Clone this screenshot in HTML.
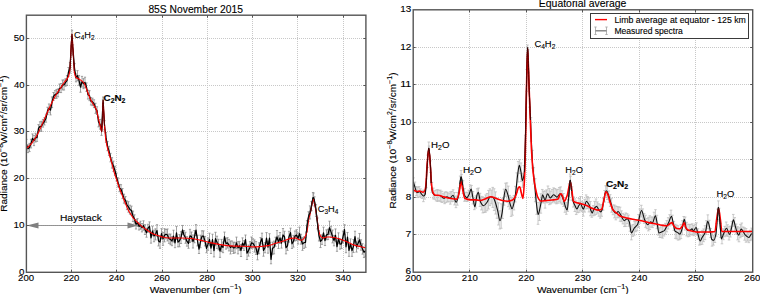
<!DOCTYPE html>
<html><head><meta charset="utf-8"><style>html,body{margin:0;padding:0;background:#fff;}svg{display:block;}</style></head>
<body><svg width="760" height="294" viewBox="0 0 760 294" font-family='"Liberation Sans", sans-serif'><rect width="760" height="294" fill="#fff"/><clipPath id="cl"><rect x="26.4" y="15.2" width="339.5" height="257.1"/></clipPath><clipPath id="cr"><rect x="413.2" y="9.8" width="339.50000000000006" height="262.4"/></clipPath><path d="M71.5,17V272 M116.5,17V272 M162.5,17V272 M207.5,17V272 M252.5,17V272 M297.5,17V272 M343.5,17V272 M27,225.5H365 M27,178.5H365 M27,131.5H365 M27,85.5H365 M27,38.5H365 M469.5,10V272 M526.5,10V272 M582.5,10V272 M639.5,10V272 M695.5,10V272 M414,234.5H752 M414,197.5H752 M414,159.5H752 M414,122.5H752 M414,84.5H752 M414,47.5H752" stroke="#c8c8c8" stroke-width="1" stroke-dasharray="1,1" fill="none"/><g clip-path="url(#cl)"><path d="M26.50,139.36V149.98M25.40,139.36h2.2M25.40,149.98h2.2 M28.00,144.80V152.61M26.90,144.80h2.2M26.90,152.61h2.2 M29.50,143.38V151.57M28.40,143.38h2.2M28.40,151.57h2.2 M31.00,139.24V147.93M29.90,139.24h2.2M29.90,147.93h2.2 M32.50,133.94V142.91M31.40,133.94h2.2M31.40,142.91h2.2 M34.00,135.42V145.64M32.90,135.42h2.2M32.90,145.64h2.2 M35.50,133.21V142.04M34.40,133.21h2.2M34.40,142.04h2.2 M37.00,134.09V141.40M35.90,134.09h2.2M35.90,141.40h2.2 M38.50,124.62V131.97M37.40,124.62h2.2M37.40,131.97h2.2 M40.00,121.84V131.09M38.90,121.84h2.2M38.90,131.09h2.2 M41.50,121.28V131.33M40.40,121.28h2.2M40.40,131.33h2.2 M43.00,119.42V127.11M41.90,119.42h2.2M41.90,127.11h2.2 M44.50,117.66V124.95M43.40,117.66h2.2M43.40,124.95h2.2 M46.00,114.14V122.20M44.90,114.14h2.2M44.90,122.20h2.2 M47.50,107.25V114.62M46.40,107.25h2.2M46.40,114.62h2.2 M49.00,103.97V112.77M47.90,103.97h2.2M47.90,112.77h2.2 M50.50,105.34V114.90M49.40,105.34h2.2M49.40,114.90h2.2 M52.00,96.94V107.59M50.90,96.94h2.2M50.90,107.59h2.2 M53.50,92.50V100.42M52.40,92.50h2.2M52.40,100.42h2.2 M55.00,90.64V98.48M53.90,90.64h2.2M53.90,98.48h2.2 M56.50,89.45V98.35M55.40,89.45h2.2M55.40,98.35h2.2 M58.00,88.97V96.82M56.90,88.97h2.2M56.90,96.82h2.2 M59.50,84.05V92.50M58.40,84.05h2.2M58.40,92.50h2.2 M61.00,83.51V92.58M59.90,83.51h2.2M59.90,92.58h2.2 M62.50,79.99V89.91M61.40,79.99h2.2M61.40,89.91h2.2 M64.00,79.96V90.01M62.90,79.96h2.2M62.90,90.01h2.2 M65.50,78.72V86.23M64.40,78.72h2.2M64.40,86.23h2.2 M67.00,75.63V85.44M65.90,75.63h2.2M65.90,85.44h2.2 M68.50,67.47V76.30M67.40,67.47h2.2M67.40,76.30h2.2 M70.00,62.59V73.06M68.90,62.59h2.2M68.90,73.06h2.2 M71.50,36.61V45.86M70.40,36.61h2.2M70.40,45.86h2.2 M73.00,44.83V54.90M71.90,44.83h2.2M71.90,54.90h2.2 M74.50,63.61V72.48M73.40,63.61h2.2M73.40,72.48h2.2 M76.00,73.89V81.83M74.90,73.89h2.2M74.90,81.83h2.2 M77.50,70.62V80.77M76.40,70.62h2.2M76.40,80.77h2.2 M79.00,75.43V85.21M77.90,75.43h2.2M77.90,85.21h2.2 M80.50,81.80V92.24M79.40,81.80h2.2M79.40,92.24h2.2 M82.00,76.36V87.08M80.90,76.36h2.2M80.90,87.08h2.2 M83.50,78.61V88.65M82.40,78.61h2.2M82.40,88.65h2.2 M85.00,77.21V87.68M83.90,77.21h2.2M83.90,87.68h2.2 M86.50,82.91V91.37M85.40,82.91h2.2M85.40,91.37h2.2 M88.00,90.25V99.04M86.90,90.25h2.2M86.90,99.04h2.2 M89.50,90.68V100.65M88.40,90.68h2.2M88.40,100.65h2.2 M91.00,97.69V105.00M89.90,97.69h2.2M89.90,105.00h2.2 M92.50,98.22V105.65M91.40,98.22h2.2M91.40,105.65h2.2 M94.00,99.79V107.61M92.90,99.79h2.2M92.90,107.61h2.2 M95.50,103.28V113.32M94.40,103.28h2.2M94.40,113.32h2.2 M97.00,106.77V114.51M95.90,106.77h2.2M95.90,114.51h2.2 M98.50,117.09V126.90M97.40,117.09h2.2M97.40,126.90h2.2 M100.00,119.41V129.10M98.90,119.41h2.2M98.90,129.10h2.2 M101.50,126.41V135.38M100.40,126.41h2.2M100.40,135.38h2.2 M103.00,99.30V106.81M101.90,99.30h2.2M101.90,106.81h2.2 M104.50,120.70V129.79M103.40,120.70h2.2M103.40,129.79h2.2 M106.00,132.51V142.33M104.90,132.51h2.2M104.90,142.33h2.2 M107.50,141.59V150.68M106.40,141.59h2.2M106.40,150.68h2.2 M109.00,146.26V155.48M107.90,146.26h2.2M107.90,155.48h2.2 M110.50,153.31V161.88M109.40,153.31h2.2M109.40,161.88h2.2 M112.00,157.65V168.09M110.90,157.65h2.2M110.90,168.09h2.2 M113.50,161.11V171.37M112.40,161.11h2.2M112.40,171.37h2.2 M115.00,166.16V175.25M113.90,166.16h2.2M113.90,175.25h2.2 M116.50,173.04V180.96M115.40,173.04h2.2M115.40,180.96h2.2 M118.00,177.86V186.87M116.90,177.86h2.2M116.90,186.87h2.2 M119.50,184.36V191.66M118.40,184.36h2.2M118.40,191.66h2.2 M121.00,184.68V193.74M119.90,184.68h2.2M119.90,193.74h2.2 M122.50,188.55V198.64M121.40,188.55h2.2M121.40,198.64h2.2 M124.00,194.20V203.17M122.90,194.20h2.2M122.90,203.17h2.2 M125.50,196.59V204.03M124.40,196.59h2.2M124.40,204.03h2.2 M127.00,200.93V209.62M125.90,200.93h2.2M125.90,209.62h2.2 M128.50,201.66V212.18M127.40,201.66h2.2M127.40,212.18h2.2 M130.00,205.21V214.11M128.90,205.21h2.2M128.90,214.11h2.2 M131.50,206.13V214.89M130.40,206.13h2.2M130.40,214.89h2.2 M133.00,211.13V221.57M131.90,211.13h2.2M131.90,221.57h2.2 M134.50,214.84V223.19M133.40,214.84h2.2M133.40,223.19h2.2 M136.00,219.56V228.99M134.90,219.56h2.2M134.90,228.99h2.2 M137.50,218.65V226.32M136.40,218.65h2.2M136.40,226.32h2.2 M139.00,222.75V230.03M137.90,222.75h2.2M137.90,230.03h2.2 M140.50,221.21V229.23M139.40,221.21h2.2M139.40,229.23h2.2 M142.00,223.56V231.92M140.90,223.56h2.2M140.90,231.92h2.2 M143.50,220.81V230.24M142.40,220.81h2.2M142.40,230.24h2.2 M145.00,224.68V234.51M143.90,224.68h2.2M143.90,234.51h2.2 M146.50,228.18V237.21M145.40,228.18h2.2M145.40,237.21h2.2 M148.00,224.26V232.17M146.90,224.26h2.2M146.90,232.17h2.2 M149.50,221.88V230.66M148.40,221.88h2.2M148.40,230.66h2.2 M151.00,232.53V243.15M149.90,232.53h2.2M149.90,243.15h2.2 M152.50,226.23V235.74M151.40,226.23h2.2M151.40,235.74h2.2 M154.00,230.16V241.74M152.90,230.16h2.2M152.90,241.74h2.2 M155.50,228.80V239.93M154.40,228.80h2.2M154.40,239.93h2.2 M157.00,224.73V236.22M155.90,224.73h2.2M155.90,236.22h2.2 M158.50,236.12V245.94M157.40,236.12h2.2M157.40,245.94h2.2 M160.00,235.92V248.28M158.90,235.92h2.2M158.90,248.28h2.2 M161.50,228.63V238.82M160.40,228.63h2.2M160.40,238.82h2.2 M163.00,232.43V245.29M161.90,232.43h2.2M161.90,245.29h2.2 M164.50,228.64V241.84M163.40,228.64h2.2M163.40,241.84h2.2 M166.00,229.50V238.89M164.90,229.50h2.2M164.90,238.89h2.2 M167.50,228.96V240.95M166.40,228.96h2.2M166.40,240.95h2.2 M169.00,234.10V243.33M167.90,234.10h2.2M167.90,243.33h2.2 M170.50,234.05V244.71M169.40,234.05h2.2M169.40,244.71h2.2 M172.00,236.34V245.69M170.90,236.34h2.2M170.90,245.69h2.2 M173.50,230.21V242.03M172.40,230.21h2.2M172.40,242.03h2.2 M175.00,238.02V247.70M173.90,238.02h2.2M173.90,247.70h2.2 M176.50,226.45V239.26M175.40,226.45h2.2M175.40,239.26h2.2 M178.00,237.50V246.81M176.90,237.50h2.2M176.90,246.81h2.2 M179.50,234.62V246.75M178.40,234.62h2.2M178.40,246.75h2.2 M181.00,231.71V243.53M179.90,231.71h2.2M179.90,243.53h2.2 M182.50,225.45V234.56M181.40,225.45h2.2M181.40,234.56h2.2 M184.00,230.53V239.50M182.90,230.53h2.2M182.90,239.50h2.2 M185.50,232.21V243.28M184.40,232.21h2.2M184.40,243.28h2.2 M187.00,236.69V246.14M185.90,236.69h2.2M185.90,246.14h2.2 M188.50,238.58V248.28M187.40,238.58h2.2M187.40,248.28h2.2 M190.00,229.33V242.48M188.90,229.33h2.2M188.90,242.48h2.2 M191.50,232.05V241.27M190.40,232.05h2.2M190.40,241.27h2.2 M193.00,235.03V248.01M191.90,235.03h2.2M191.90,248.01h2.2 M194.50,230.58V242.75M193.40,230.58h2.2M193.40,242.75h2.2 M196.00,224.65V235.50M194.90,224.65h2.2M194.90,235.50h2.2 M197.50,235.22V245.91M196.40,235.22h2.2M196.40,245.91h2.2 M199.00,244.64V253.50M197.90,244.64h2.2M197.90,253.50h2.2 M200.50,235.19V247.71M199.40,235.19h2.2M199.40,247.71h2.2 M202.00,230.82V241.62M200.90,230.82h2.2M200.90,241.62h2.2 M203.50,230.88V241.46M202.40,230.88h2.2M202.40,241.46h2.2 M205.00,236.37V245.90M203.90,236.37h2.2M203.90,245.90h2.2 M206.50,243.89V252.76M205.40,243.89h2.2M205.40,252.76h2.2 M208.00,237.96V250.29M206.90,237.96h2.2M206.90,250.29h2.2 M209.50,233.20V245.79M208.40,233.20h2.2M208.40,245.79h2.2 M211.00,242.94V253.52M209.90,242.94h2.2M209.90,253.52h2.2 M212.50,234.21V245.23M211.40,234.21h2.2M211.40,245.23h2.2 M214.00,244.55V256.89M212.90,244.55h2.2M212.90,256.89h2.2 M215.50,232.29V245.10M214.40,232.29h2.2M214.40,245.10h2.2 M217.00,236.21V248.43M215.90,236.21h2.2M215.90,248.43h2.2 M218.50,239.30V249.88M217.40,239.30h2.2M217.40,249.88h2.2 M220.00,244.69V257.36M218.90,244.69h2.2M218.90,257.36h2.2 M221.50,239.40V251.58M220.40,239.40h2.2M220.40,251.58h2.2 M223.00,242.09V252.67M221.90,242.09h2.2M221.90,252.67h2.2 M224.50,232.07V241.18M223.40,232.07h2.2M223.40,241.18h2.2 M226.00,238.24V249.10M224.90,238.24h2.2M224.90,249.10h2.2 M227.50,237.65V248.02M226.40,237.65h2.2M226.40,248.02h2.2 M229.00,239.37V250.92M227.90,239.37h2.2M227.90,250.92h2.2 M230.50,240.99V253.95M229.40,240.99h2.2M229.40,253.95h2.2 M232.00,240.97V251.26M230.90,240.97h2.2M230.90,251.26h2.2 M233.50,242.16V253.47M232.40,242.16h2.2M232.40,253.47h2.2 M235.00,242.31V252.82M233.90,242.31h2.2M233.90,252.82h2.2 M236.50,237.11V248.74M235.40,237.11h2.2M235.40,248.74h2.2 M238.00,241.71V253.86M236.90,241.71h2.2M236.90,253.86h2.2 M239.50,241.39V250.29M238.40,241.39h2.2M238.40,250.29h2.2 M241.00,244.47V256.52M239.90,244.47h2.2M239.90,256.52h2.2 M242.50,237.87V248.43M241.40,237.87h2.2M241.40,248.43h2.2 M244.00,240.72V250.38M242.90,240.72h2.2M242.90,250.38h2.2 M245.50,235.03V244.26M244.40,235.03h2.2M244.40,244.26h2.2 M247.00,246.74V259.52M245.90,246.74h2.2M245.90,259.52h2.2 M248.50,245.07V256.11M247.40,245.07h2.2M247.40,256.11h2.2 M250.00,241.60V252.90M248.90,241.60h2.2M248.90,252.90h2.2 M251.50,237.00V248.60M250.40,237.00h2.2M250.40,248.60h2.2 M253.00,238.75V247.89M251.90,238.75h2.2M251.90,247.89h2.2 M254.50,239.93V252.07M253.40,239.93h2.2M253.40,252.07h2.2 M256.00,241.58V254.47M254.90,241.58h2.2M254.90,254.47h2.2 M257.50,248.96V259.83M256.40,248.96h2.2M256.40,259.83h2.2 M259.00,242.79V253.77M257.90,242.79h2.2M257.90,253.77h2.2 M260.50,237.62V246.68M259.40,237.62h2.2M259.40,246.68h2.2 M262.00,233.16V243.82M260.90,233.16h2.2M260.90,243.82h2.2 M263.50,244.77V256.20M262.40,244.77h2.2M262.40,256.20h2.2 M265.00,242.70V252.76M263.90,242.70h2.2M263.90,252.76h2.2 M266.50,232.58V243.84M265.40,232.58h2.2M265.40,243.84h2.2 M268.00,241.23V253.18M266.90,241.23h2.2M266.90,253.18h2.2 M269.50,233.69V242.55M268.40,233.69h2.2M268.40,242.55h2.2 M271.00,254.81V263.79M269.90,254.81h2.2M269.90,263.79h2.2 M272.50,242.17V254.29M271.40,242.17h2.2M271.40,254.29h2.2 M274.00,241.08V253.83M272.90,241.08h2.2M272.90,253.83h2.2 M275.50,237.22V246.24M274.40,237.22h2.2M274.40,246.24h2.2 M277.00,230.50V243.45M275.90,230.50h2.2M275.90,243.45h2.2 M278.50,235.74V248.53M277.40,235.74h2.2M277.40,248.53h2.2 M280.00,232.50V243.41M278.90,232.50h2.2M278.90,243.41h2.2 M281.50,238.22V248.09M280.40,238.22h2.2M280.40,248.09h2.2 M283.00,228.54V241.46M281.90,228.54h2.2M281.90,241.46h2.2 M284.50,231.29V242.15M283.40,231.29h2.2M283.40,242.15h2.2 M286.00,241.48V253.87M284.90,241.48h2.2M284.90,253.87h2.2 M287.50,241.11V250.41M286.40,241.11h2.2M286.40,250.41h2.2 M289.00,231.31V242.11M287.90,231.31h2.2M287.90,242.11h2.2 M290.50,228.16V237.19M289.40,228.16h2.2M289.40,237.19h2.2 M292.00,239.10V248.45M290.90,239.10h2.2M290.90,248.45h2.2 M293.50,235.36V247.09M292.40,235.36h2.2M292.40,247.09h2.2 M295.00,231.00V240.96M293.90,231.00h2.2M293.90,240.96h2.2 M296.50,229.79V240.43M295.40,229.79h2.2M295.40,240.43h2.2 M298.00,232.89V244.03M296.90,232.89h2.2M296.90,244.03h2.2 M299.50,227.14V240.13M298.40,227.14h2.2M298.40,240.13h2.2 M301.00,234.27V244.12M299.90,234.27h2.2M299.90,244.12h2.2 M302.50,237.61V250.34M301.40,237.61h2.2M301.40,250.34h2.2 M304.00,236.87V248.42M302.90,236.87h2.2M302.90,248.42h2.2 M305.50,237.34V247.33M304.40,237.34h2.2M304.40,247.33h2.2 M307.00,220.61V231.90M305.90,220.61h2.2M305.90,231.90h2.2 M308.50,211.78V221.42M307.40,211.78h2.2M307.40,221.42h2.2 M310.00,205.88V218.99M308.90,205.88h2.2M308.90,218.99h2.2 M311.50,201.59V210.66M310.40,201.59h2.2M310.40,210.66h2.2 M313.00,192.48V203.16M311.90,192.48h2.2M311.90,203.16h2.2 M314.50,196.84V205.96M313.40,196.84h2.2M313.40,205.96h2.2 M316.00,204.65V216.43M314.90,204.65h2.2M314.90,216.43h2.2 M317.50,217.99V228.89M316.40,217.99h2.2M316.40,228.89h2.2 M319.00,230.67V240.99M317.90,230.67h2.2M317.90,240.99h2.2 M320.50,235.06V247.55M319.40,235.06h2.2M319.40,247.55h2.2 M322.00,235.04V244.37M320.90,235.04h2.2M320.90,244.37h2.2 M323.50,227.16V238.70M322.40,227.16h2.2M322.40,238.70h2.2 M325.00,235.80V245.54M323.90,235.80h2.2M323.90,245.54h2.2 M326.50,229.83V239.76M325.40,229.83h2.2M325.40,239.76h2.2 M328.00,229.19V239.61M326.90,229.19h2.2M326.90,239.61h2.2 M329.50,221.18V234.33M328.40,221.18h2.2M328.40,234.33h2.2 M331.00,226.30V237.51M329.90,226.30h2.2M329.90,237.51h2.2 M332.50,230.04V242.89M331.40,230.04h2.2M331.40,242.89h2.2 M334.00,235.38V245.80M332.90,235.38h2.2M332.90,245.80h2.2 M335.50,228.95V241.60M334.40,228.95h2.2M334.40,241.60h2.2 M337.00,242.14V251.31M335.90,242.14h2.2M335.90,251.31h2.2 M338.50,232.86V243.79M337.40,232.86h2.2M337.40,243.79h2.2 M340.00,239.03V249.14M338.90,239.03h2.2M338.90,249.14h2.2 M341.50,239.38V248.52M340.40,239.38h2.2M340.40,248.52h2.2 M343.00,231.09V242.80M341.90,231.09h2.2M341.90,242.80h2.2 M344.50,224.66V234.79M343.40,224.66h2.2M343.40,234.79h2.2 M346.00,240.86V252.71M344.90,240.86h2.2M344.90,252.71h2.2 M347.50,232.46V241.89M346.40,232.46h2.2M346.40,241.89h2.2 M349.00,244.34V256.33M347.90,244.34h2.2M347.90,256.33h2.2 M350.50,238.90V248.21M349.40,238.90h2.2M349.40,248.21h2.2 M352.00,245.03V256.33M350.90,245.03h2.2M350.90,256.33h2.2 M353.50,239.60V252.54M352.40,239.60h2.2M352.40,252.54h2.2 M355.00,231.23V241.96M353.90,231.23h2.2M353.90,241.96h2.2 M356.50,241.93V252.07M355.40,241.93h2.2M355.40,252.07h2.2 M358.00,238.14V248.70M356.90,238.14h2.2M356.90,248.70h2.2 M359.50,233.48V246.22M358.40,233.48h2.2M358.40,246.22h2.2 M361.00,239.79V250.18M359.90,239.79h2.2M359.90,250.18h2.2 M362.50,243.74V254.14M361.40,243.74h2.2M361.40,254.14h2.2 M364.00,247.05V257.55M362.90,247.05h2.2M362.90,257.55h2.2 M365.50,245.11V256.40M364.40,245.11h2.2M364.40,256.40h2.2 M72.00,30.20V37.80M70.90,30.20h2.2M70.90,37.80h2.2 M103.10,97.00V103.00M102.00,97.00h2.2M102.00,103.00h2.2 M313.60,193.00V202.00M312.50,193.00h2.2M312.50,202.00h2.2" stroke="#8a8a8a" stroke-width="0.8" fill="none"/><path d="M26.50,144.67 L28.00,148.70 L29.50,147.48 L31.00,143.59 L32.50,138.43 L34.00,140.53 L35.50,137.62 L37.00,137.74 L38.50,128.29 L40.00,126.47 L41.50,126.31 L43.00,123.26 L44.50,121.31 L46.00,118.17 L47.50,110.93 L49.00,108.37 L50.50,110.12 L52.00,102.27 L53.50,96.46 L55.00,94.56 L56.50,93.90 L58.00,92.90 L59.50,88.27 L61.00,88.05 L62.50,84.95 L64.00,84.98 L65.50,82.48 L67.00,80.54 L68.50,71.89 L70.00,67.82 L71.50,41.24 L73.00,49.86 L74.50,68.05 L76.00,77.86 L77.50,75.69 L79.00,80.32 L80.50,87.02 L82.00,81.72 L83.50,83.63 L85.00,82.45 L86.50,87.14 L88.00,94.65 L89.50,95.66 L91.00,101.35 L92.50,101.93 L94.00,103.70 L95.50,108.30 L97.00,110.64 L98.50,121.99 L100.00,124.25 L101.50,130.90 L103.00,103.05 L104.50,125.25 L106.00,137.42 L107.50,146.14 L109.00,150.87 L110.50,157.60 L112.00,162.87 L113.50,166.24 L115.00,170.70 L116.50,177.00 L118.00,182.36 L119.50,188.01 L121.00,189.21 L122.50,193.59 L124.00,198.69 L125.50,200.31 L127.00,205.28 L128.50,206.92 L130.00,209.66 L131.50,210.51 L133.00,216.35 L134.50,219.01 L136.00,224.28 L137.50,222.49 L139.00,226.39 L140.50,225.22 L142.00,227.74 L143.50,225.52 L145.00,229.60 L146.50,232.70 L148.00,228.22 L149.50,226.27 L151.00,237.84 L152.50,230.99 L154.00,235.95 L155.50,234.37 L157.00,230.48 L158.50,241.03 L160.00,242.10 L161.50,233.73 L163.00,238.86 L164.50,235.24 L166.00,234.20 L167.50,234.96 L169.00,238.71 L170.50,239.38 L172.00,241.02 L173.50,236.12 L175.00,242.86 L176.50,232.86 L178.00,242.15 L179.50,240.68 L181.00,237.62 L182.50,230.00 L184.00,235.02 L185.50,237.74 L187.00,241.41 L188.50,243.43 L190.00,235.90 L191.50,236.66 L193.00,241.52 L194.50,236.67 L196.00,230.08 L197.50,240.57 L199.00,249.07 L200.50,241.45 L202.00,236.22 L203.50,236.17 L205.00,241.13 L206.50,248.32 L208.00,244.13 L209.50,239.49 L211.00,248.23 L212.50,239.72 L214.00,250.72 L215.50,238.70 L217.00,242.32 L218.50,244.59 L220.00,251.03 L221.50,245.49 L223.00,247.38 L224.50,236.62 L226.00,243.67 L227.50,242.83 L229.00,245.14 L230.50,247.47 L232.00,246.12 L233.50,247.82 L235.00,247.56 L236.50,242.93 L238.00,247.78 L239.50,245.84 L241.00,250.49 L242.50,243.15 L244.00,245.55 L245.50,239.65 L247.00,253.13 L248.50,250.59 L250.00,247.25 L251.50,242.80 L253.00,243.32 L254.50,246.00 L256.00,248.02 L257.50,254.40 L259.00,248.28 L260.50,242.15 L262.00,238.49 L263.50,250.49 L265.00,247.73 L266.50,238.21 L268.00,247.20 L269.50,238.12 L271.00,259.30 L272.50,248.23 L274.00,247.45 L275.50,241.73 L277.00,236.97 L278.50,242.13 L280.00,237.96 L281.50,243.16 L283.00,235.00 L284.50,236.72 L286.00,247.68 L287.50,245.76 L289.00,236.71 L290.50,232.68 L292.00,243.77 L293.50,241.23 L295.00,235.98 L296.50,235.11 L298.00,238.46 L299.50,233.64 L301.00,239.19 L302.50,243.97 L304.00,242.64 L305.50,242.34 L307.00,226.25 L308.50,216.60 L310.00,212.44 L311.50,206.12 L313.00,197.82 L314.50,201.40 L316.00,210.54 L317.50,223.44 L319.00,235.83 L320.50,241.31 L322.00,239.71 L323.50,232.93 L325.00,240.67 L326.50,234.79 L328.00,234.40 L329.50,227.76 L331.00,231.91 L332.50,236.46 L334.00,240.59 L335.50,235.27 L337.00,246.73 L338.50,238.33 L340.00,244.08 L341.50,243.95 L343.00,236.95 L344.50,229.73 L346.00,246.78 L347.50,237.18 L349.00,250.34 L350.50,243.55 L352.00,250.68 L353.50,246.07 L355.00,236.60 L356.50,247.00 L358.00,243.42 L359.50,239.85 L361.00,244.98 L362.50,248.94 L364.00,252.30 L365.50,250.75" stroke="#000" stroke-width="1.25" fill="none" stroke-linejoin="round"/><path d="M26.00,148.30 C26.67,147.87 27.33,147.51 28.00,147.00 C29.07,146.18 30.13,145.11 31.20,143.90 C32.20,142.76 33.20,141.32 34.20,139.80 C35.57,137.72 36.93,135.35 38.30,132.70 C40.00,129.41 41.70,125.21 43.40,121.40 C44.53,118.86 45.67,116.27 46.80,113.70 C47.93,111.13 49.07,108.41 50.20,106.00 C51.33,103.59 52.47,101.31 53.60,99.20 C54.73,97.09 55.87,95.10 57.00,93.30 C58.13,91.50 59.27,90.02 60.40,88.30 C61.63,86.43 62.87,84.22 64.10,82.50 C65.13,81.06 66.17,80.19 67.20,78.60 C67.70,77.83 68.20,77.14 68.70,75.80 C69.03,74.91 69.37,73.75 69.70,71.50 C69.93,69.93 70.17,65.77 70.40,62.00 C70.63,58.23 70.87,52.10 71.10,48.00 C71.40,42.72 71.70,34.00 72.00,34.00 C72.30,34.00 72.60,43.05 72.90,48.00 C73.17,52.40 73.43,57.63 73.70,62.00 C73.90,65.28 74.10,69.74 74.30,71.30 C74.63,73.89 74.97,75.56 75.30,76.20 C75.83,77.23 76.37,77.61 76.90,78.00 C77.73,78.61 78.57,78.82 79.40,79.30 C80.43,79.89 81.47,80.37 82.50,81.30 C83.17,81.90 83.83,82.82 84.50,84.00 C85.00,84.88 85.50,86.42 86.00,87.70 C86.70,89.49 87.40,91.48 88.10,93.30 C88.77,95.04 89.43,96.94 90.10,98.40 C90.80,99.93 91.50,101.14 92.20,102.40 C92.87,103.60 93.53,104.68 94.20,105.80 C94.87,106.92 95.53,107.51 96.20,109.10 C96.83,110.61 97.47,114.54 98.10,117.20 C98.60,119.30 99.10,121.35 99.60,123.40 C100.10,125.45 100.60,127.61 101.10,129.50 C101.33,130.38 101.57,132.00 101.80,132.00 C102.03,132.00 102.27,123.63 102.50,118.00 C102.70,113.18 102.90,100.00 103.10,100.00 C103.33,100.00 103.57,107.96 103.80,112.00 C104.07,116.62 104.33,122.16 104.60,126.00 C104.93,130.80 105.27,135.40 105.60,138.10 C105.93,140.80 106.27,142.54 106.60,144.20 C107.10,146.70 107.60,148.50 108.10,150.40 C108.63,152.42 109.17,154.21 109.70,156.00 C110.17,157.56 110.63,158.89 111.10,160.50 C111.60,162.23 112.10,164.15 112.60,166.10 C113.10,168.05 113.60,170.47 114.10,172.20 C114.80,174.62 115.50,176.30 116.20,178.40 C116.87,180.40 117.53,182.52 118.20,184.50 C118.83,186.38 119.47,188.28 120.10,190.00 C120.77,191.81 121.43,193.40 122.10,195.10 C122.77,196.80 123.43,198.54 124.10,200.20 C124.80,201.94 125.50,203.63 126.20,205.30 C126.87,206.89 127.53,208.69 128.20,210.00 C129.00,211.57 129.80,212.70 130.60,214.00 C131.33,215.19 132.07,216.57 132.80,217.50 C133.97,218.98 135.13,219.92 136.30,221.10 C137.50,222.32 138.70,223.63 139.90,224.70 C141.10,225.77 142.30,226.71 143.50,227.60 C144.67,228.46 145.83,229.21 147.00,230.00 C148.20,230.81 149.40,231.71 150.60,232.40 C151.80,233.09 153.00,233.67 154.20,234.20 C155.40,234.72 156.60,235.20 157.80,235.60 C158.97,235.98 160.13,236.29 161.30,236.60 C162.90,237.03 164.50,237.71 166.10,237.80 C168.40,237.93 170.70,238.00 173.00,238.00 C175.53,238.00 178.07,238.00 180.60,238.00 C183.17,238.00 185.73,238.15 188.30,238.30 C190.87,238.45 193.43,238.80 196.00,239.20 C198.53,239.60 201.07,240.39 203.60,241.00 C206.17,241.62 208.73,242.34 211.30,242.90 C213.83,243.46 216.37,243.96 218.90,244.40 C221.47,244.85 224.03,245.36 226.60,245.60 C229.13,245.83 231.67,246.04 234.20,246.10 C236.77,246.16 239.33,246.15 241.90,246.20 C244.43,246.25 246.97,246.34 249.50,246.50 C250.57,246.57 251.63,246.90 252.70,246.90 C255.23,246.90 257.77,246.68 260.30,246.50 C262.87,246.31 265.43,246.03 268.00,245.60 C270.53,245.17 273.07,244.06 275.60,243.30 C278.17,242.53 280.73,241.82 283.30,241.00 C285.83,240.19 288.37,238.73 290.90,238.40 C292.43,238.20 293.97,238.00 295.50,238.00 C296.33,238.00 297.17,238.88 298.00,239.20 C299.20,239.65 300.40,240.30 301.60,240.30 C302.50,240.30 303.40,239.13 304.30,238.00 C305.20,236.87 306.10,234.90 307.00,231.60 C307.60,229.40 308.20,221.96 308.80,219.00 C309.30,216.53 309.80,215.42 310.30,213.20 C310.73,211.28 311.17,208.70 311.60,206.50 C311.93,204.81 312.27,202.77 312.60,201.50 C312.83,200.61 313.07,199.30 313.30,199.30 C313.60,199.30 313.90,200.73 314.20,201.80 C314.60,203.22 315.00,205.74 315.40,208.00 C315.80,210.26 316.20,212.89 316.60,215.50 C316.97,217.89 317.33,220.35 317.70,223.00 C318.03,225.41 318.37,229.20 318.70,230.70 C319.30,233.40 319.90,235.39 320.50,236.10 C321.40,237.17 322.30,238.00 323.20,238.00 C324.40,238.00 325.60,237.00 326.80,237.00 C327.87,237.00 328.93,237.00 330.00,237.00 C332.10,237.00 334.20,237.55 336.30,238.00 C339.00,238.58 341.70,239.78 344.40,240.80 C348.03,242.17 351.67,244.37 355.30,245.40 C358.70,246.37 362.10,246.87 365.50,247.60" stroke="#ff0000" stroke-width="1.1" fill="none" stroke-linejoin="round"/><path d="M306.00,233.50 L307.20,226.00 L308.30,218.00 L309.40,214.00 L310.50,212.50 L311.50,206.00 L312.50,199.50 L313.30,197.00 L314.20,199.00 L315.20,205.00 L316.30,212.00 L317.30,222.00 L318.50,233.00" stroke="#111" stroke-width="1.0" fill="none" stroke-linejoin="round"/><path d="M69.70,71.50 C69.93,68.33 70.17,65.77 70.40,62.00 C70.63,58.23 70.87,52.10 71.10,48.00 C71.40,42.72 71.70,34.00 72.00,34.00 C72.30,34.00 72.60,43.05 72.90,48.00 C73.17,52.40 73.43,57.63 73.70,62.00 C73.90,65.28 74.10,68.20 74.30,71.30" stroke="#300000" stroke-width="0.8" fill="none" stroke-linejoin="round"/><path d="M101.80,132.00 C102.03,127.33 102.27,123.63 102.50,118.00 C102.70,113.18 102.90,100.00 103.10,100.00 C103.33,100.00 103.57,107.96 103.80,112.00 C104.07,116.62 104.33,121.33 104.60,126.00" stroke="#300000" stroke-width="0.8" fill="none" stroke-linejoin="round"/></g><g clip-path="url(#cr)"><path d="M413.50,177.86V186.44M412.20,177.86h2.6M412.20,186.44h2.6 M414.92,182.07V192.06M413.62,182.07h2.6M413.62,192.06h2.6 M416.33,186.56V195.78M415.03,186.56h2.6M415.03,195.78h2.6 M417.75,187.28V197.59M416.45,187.28h2.6M416.45,197.59h2.6 M419.16,186.62V197.06M417.86,186.62h2.6M417.86,197.06h2.6 M420.58,188.89V196.80M419.28,188.89h2.6M419.28,196.80h2.6 M421.99,190.73V198.42M420.69,190.73h2.6M420.69,198.42h2.6 M423.41,190.16V201.66M422.11,190.16h2.6M422.11,201.66h2.6 M424.82,190.25V199.11M423.52,190.25h2.6M423.52,199.11h2.6 M426.24,178.91V187.69M424.94,178.91h2.6M424.94,187.69h2.6 M427.65,155.16V167.47M426.35,155.16h2.6M426.35,167.47h2.6 M429.07,145.99V155.90M427.77,145.99h2.6M427.77,155.90h2.6 M430.48,160.85V172.49M429.18,160.85h2.6M429.18,172.49h2.6 M431.90,182.50V192.49M430.60,182.50h2.6M430.60,192.49h2.6 M433.31,188.10V198.88M432.01,188.10h2.6M432.01,198.88h2.6 M434.73,190.75V199.27M433.43,190.75h2.6M433.43,199.27h2.6 M436.14,190.07V200.89M434.84,190.07h2.6M434.84,200.89h2.6 M437.56,189.53V201.47M436.26,189.53h2.6M436.26,201.47h2.6 M438.97,190.33V200.67M437.67,190.33h2.6M437.67,200.67h2.6 M440.39,190.15V201.55M439.09,190.15h2.6M439.09,201.55h2.6 M441.80,191.31V202.42M440.50,191.31h2.6M440.50,202.42h2.6 M443.22,193.76V202.00M441.92,193.76h2.6M441.92,202.00h2.6 M444.63,192.11V203.69M443.33,192.11h2.6M443.33,203.69h2.6 M446.05,191.81V202.62M444.75,191.81h2.6M444.75,202.62h2.6 M447.46,192.35V201.79M446.16,192.35h2.6M446.16,201.79h2.6 M448.88,193.67V201.84M447.58,193.67h2.6M447.58,201.84h2.6 M450.29,191.90V204.12M448.99,191.90h2.6M448.99,204.12h2.6 M451.71,191.42V201.77M450.41,191.42h2.6M450.41,201.77h2.6 M453.12,189.79V201.35M451.82,189.79h2.6M451.82,201.35h2.6 M454.54,192.53V204.90M453.24,192.53h2.6M453.24,204.90h2.6 M455.95,196.07V207.67M454.65,196.07h2.6M454.65,207.67h2.6 M457.37,192.47V205.11M456.07,192.47h2.6M456.07,205.11h2.6 M458.78,187.86V197.96M457.48,187.86h2.6M457.48,197.96h2.6 M460.20,176.05V188.16M458.90,176.05h2.6M458.90,188.16h2.6 M461.61,174.38V184.77M460.31,174.38h2.6M460.31,184.77h2.6 M463.03,180.69V193.52M461.73,180.69h2.6M461.73,193.52h2.6 M464.44,188.67V201.26M463.14,188.67h2.6M463.14,201.26h2.6 M465.86,192.24V201.07M464.56,192.24h2.6M464.56,201.07h2.6 M467.27,192.38V201.55M465.97,192.38h2.6M465.97,201.55h2.6 M468.69,190.19V199.93M467.39,190.19h2.6M467.39,199.93h2.6 M470.10,184.88V198.72M468.80,184.88h2.6M468.80,198.72h2.6 M471.52,185.44V196.68M470.22,185.44h2.6M470.22,196.68h2.6 M472.93,191.52V203.96M471.63,191.52h2.6M471.63,203.96h2.6 M474.35,198.83V209.67M473.05,198.83h2.6M473.05,209.67h2.6 M475.76,195.89V208.05M474.46,195.89h2.6M474.46,208.05h2.6 M477.18,188.76V200.42M475.88,188.76h2.6M475.88,200.42h2.6 M478.59,188.05V199.68M477.29,188.05h2.6M477.29,199.68h2.6 M480.01,193.30V206.48M478.71,193.30h2.6M478.71,206.48h2.6 M481.42,196.33V209.93M480.12,196.33h2.6M480.12,209.93h2.6 M482.84,196.87V212.89M481.54,196.87h2.6M481.54,212.89h2.6 M484.25,197.41V212.49M482.95,197.41h2.6M482.95,212.49h2.6 M485.67,194.95V212.12M484.37,194.95h2.6M484.37,212.12h2.6 M487.08,193.53V210.71M485.78,193.53h2.6M485.78,210.71h2.6 M488.50,190.41V209.01M487.20,190.41h2.6M487.20,209.01h2.6 M489.91,188.81V205.61M488.61,188.81h2.6M488.61,205.61h2.6 M491.33,190.10V203.90M490.03,190.10h2.6M490.03,203.90h2.6 M492.74,187.39V207.37M491.44,187.39h2.6M491.44,207.37h2.6 M494.16,188.78V210.54M492.86,188.78h2.6M492.86,210.54h2.6 M495.57,191.86V214.06M494.27,191.86h2.6M494.27,214.06h2.6 M496.99,198.18V218.29M495.69,198.18h2.6M495.69,218.29h2.6 M498.40,202.80V224.97M497.10,202.80h2.6M497.10,224.97h2.6 M499.82,210.87V228.96M498.52,210.87h2.6M498.52,228.96h2.6 M501.23,203.85V228.26M499.93,203.85h2.6M499.93,228.26h2.6 M502.65,198.37V218.48M501.35,198.37h2.6M501.35,218.48h2.6 M504.06,189.16V205.12M502.76,189.16h2.6M502.76,205.12h2.6 M505.48,183.21V196.47M504.18,183.21h2.6M504.18,196.47h2.6 M506.89,182.86V202.29M505.59,182.86h2.6M505.59,202.29h2.6 M508.31,186.14V206.72M507.01,186.14h2.6M507.01,206.72h2.6 M509.72,195.38V209.06M508.42,195.38h2.6M508.42,209.06h2.6 M511.14,197.04V216.36M509.84,197.04h2.6M509.84,216.36h2.6 M512.55,198.84V215.21M511.25,198.84h2.6M511.25,215.21h2.6 M513.97,195.52V209.91M512.67,195.52h2.6M512.67,209.91h2.6 M515.38,186.33V201.94M514.08,186.33h2.6M514.08,201.94h2.6 M516.80,172.83V192.33M515.50,172.83h2.6M515.50,192.33h2.6 M518.21,161.56V182.00M516.91,161.56h2.6M516.91,182.00h2.6 M519.63,159.66V173.50M518.33,159.66h2.6M518.33,173.50h2.6 M521.04,162.94V181.59M519.74,162.94h2.6M519.74,181.59h2.6 M522.46,173.16V187.31M521.16,173.16h2.6M521.16,187.31h2.6 M523.87,165.39V185.35M522.57,165.39h2.6M522.57,185.35h2.6 M525.29,135.27V152.18M523.99,135.27h2.6M523.99,152.18h2.6 M526.70,69.48V91.29M525.40,69.48h2.6M525.40,91.29h2.6 M528.12,49.71V72.64M526.82,49.71h2.6M526.82,72.64h2.6 M529.53,88.10V107.13M528.23,88.10h2.6M528.23,107.13h2.6 M530.95,117.58V141.19M529.65,117.58h2.6M529.65,141.19h2.6 M532.36,150.39V168.09M531.06,150.39h2.6M531.06,168.09h2.6 M533.78,167.66V184.08M532.48,167.66h2.6M532.48,184.08h2.6 M535.19,178.66V201.73M533.89,178.66h2.6M533.89,201.73h2.6 M536.61,195.74V214.32M535.31,195.74h2.6M535.31,214.32h2.6 M538.02,202.55V224.31M536.72,202.55h2.6M536.72,224.31h2.6 M539.44,199.58V220.50M538.14,199.58h2.6M538.14,220.50h2.6 M540.85,193.83V213.17M539.55,193.83h2.6M539.55,213.17h2.6 M542.27,189.44V202.49M540.97,189.44h2.6M540.97,202.49h2.6 M543.68,191.17V203.04M542.38,191.17h2.6M542.38,203.04h2.6 M545.10,191.05V208.12M543.80,191.05h2.6M543.80,208.12h2.6 M546.51,189.86V202.78M545.21,189.86h2.6M545.21,202.78h2.6 M547.93,186.04V202.61M546.63,186.04h2.6M546.63,202.61h2.6 M549.34,188.55V204.67M548.04,188.55h2.6M548.04,204.67h2.6 M550.76,191.05V203.88M549.46,191.05h2.6M549.46,203.88h2.6 M552.17,189.43V202.75M550.87,189.43h2.6M550.87,202.75h2.6 M553.59,187.88V201.55M552.29,187.88h2.6M552.29,201.55h2.6 M555.00,188.52V202.94M553.70,188.52h2.6M553.70,202.94h2.6 M556.42,189.73V203.81M555.12,189.73h2.6M555.12,203.81h2.6 M557.83,189.34V203.18M556.53,189.34h2.6M556.53,203.18h2.6 M559.25,187.56V201.75M557.95,187.56h2.6M557.95,201.75h2.6 M560.66,186.90V203.04M559.36,186.90h2.6M559.36,203.04h2.6 M562.08,190.76V204.19M560.78,190.76h2.6M560.78,204.19h2.6 M563.49,193.51V206.45M562.19,193.51h2.6M562.19,206.45h2.6 M564.91,197.57V212.26M563.61,197.57h2.6M563.61,212.26h2.6 M566.32,202.60V214.29M565.02,202.60h2.6M565.02,214.29h2.6 M567.74,199.33V211.39M566.44,199.33h2.6M566.44,211.39h2.6 M569.15,183.81V199.99M567.85,183.81h2.6M567.85,199.99h2.6 M570.56,176.19V189.55M569.26,176.19h2.6M569.26,189.55h2.6 M571.98,186.75V200.24M570.68,186.75h2.6M570.68,200.24h2.6 M573.39,196.84V207.04M572.09,196.84h2.6M572.09,207.04h2.6 M574.81,198.83V211.46M573.51,198.83h2.6M573.51,211.46h2.6 M576.22,200.93V214.54M574.92,200.93h2.6M574.92,214.54h2.6 M577.64,202.53V212.72M576.34,202.53h2.6M576.34,212.72h2.6 M579.05,198.45V212.22M577.75,198.45h2.6M577.75,212.22h2.6 M580.47,196.55V210.39M579.17,196.55h2.6M579.17,210.39h2.6 M581.88,201.28V211.66M580.58,201.28h2.6M580.58,211.66h2.6 M583.30,202.32V216.08M582.00,202.32h2.6M582.00,216.08h2.6 M584.71,199.28V212.04M583.41,199.28h2.6M583.41,212.04h2.6 M586.13,194.92V208.92M584.83,194.92h2.6M584.83,208.92h2.6 M587.54,196.52V208.55M586.24,196.52h2.6M586.24,208.55h2.6 M588.96,197.81V211.93M587.66,197.81h2.6M587.66,211.93h2.6 M590.37,201.50V215.77M589.07,201.50h2.6M589.07,215.77h2.6 M591.79,207.28V217.28M590.49,207.28h2.6M590.49,217.28h2.6 M593.20,205.59V215.79M591.90,205.59h2.6M591.90,215.79h2.6 M594.62,201.38V215.20M593.32,201.38h2.6M593.32,215.20h2.6 M596.03,198.97V214.45M594.73,198.97h2.6M594.73,214.45h2.6 M597.45,201.91V213.17M596.15,201.91h2.6M596.15,213.17h2.6 M598.86,203.78V216.22M597.56,203.78h2.6M597.56,216.22h2.6 M600.28,204.90V218.12M598.98,204.90h2.6M598.98,218.12h2.6 M601.69,204.68V216.28M600.39,204.68h2.6M600.39,216.28h2.6 M603.11,198.28V210.11M601.81,198.28h2.6M601.81,210.11h2.6 M604.52,190.46V201.98M603.22,190.46h2.6M603.22,201.98h2.6 M605.94,185.88V197.69M604.64,185.88h2.6M604.64,197.69h2.6 M607.35,186.39V199.50M606.05,186.39h2.6M606.05,199.50h2.6 M608.77,190.98V202.36M607.47,190.98h2.6M607.47,202.36h2.6 M610.18,194.61V206.41M608.88,194.61h2.6M608.88,206.41h2.6 M611.60,198.14V212.19M610.30,198.14h2.6M610.30,212.19h2.6 M613.01,204.95V214.69M611.71,204.95h2.6M611.71,214.69h2.6 M614.43,205.06V217.89M613.13,205.06h2.6M613.13,217.89h2.6 M615.84,206.05V219.82M614.54,206.05h2.6M614.54,219.82h2.6 M617.26,206.56V217.87M615.96,206.56h2.6M615.96,217.87h2.6 M618.67,206.89V217.68M617.37,206.89h2.6M617.37,217.68h2.6 M620.09,207.18V221.26M618.79,207.18h2.6M618.79,221.26h2.6 M621.50,210.85V221.69M620.20,210.85h2.6M620.20,221.69h2.6 M622.92,213.33V223.86M621.62,213.33h2.6M621.62,223.86h2.6 M624.33,214.65V226.57M623.03,214.65h2.6M623.03,226.57h2.6 M625.75,212.98V226.36M624.45,212.98h2.6M624.45,226.36h2.6 M627.16,213.73V223.72M625.86,213.73h2.6M625.86,223.72h2.6 M628.58,215.07V226.28M627.28,215.07h2.6M627.28,226.28h2.6 M629.99,220.00V231.25M628.69,220.00h2.6M628.69,231.25h2.6 M631.41,225.80V239.84M630.11,225.80h2.6M630.11,239.84h2.6 M632.82,224.59V236.39M631.52,224.59h2.6M631.52,236.39h2.6 M634.24,221.11V235.22M632.94,221.11h2.6M632.94,235.22h2.6 M635.65,221.48V231.73M634.35,221.48h2.6M634.35,231.73h2.6 M637.07,219.56V230.72M635.77,219.56h2.6M635.77,230.72h2.6 M638.48,214.57V227.46M637.18,214.57h2.6M637.18,227.46h2.6 M639.90,209.00V223.16M638.60,209.00h2.6M638.60,223.16h2.6 M641.31,205.28V217.01M640.01,205.28h2.6M640.01,217.01h2.6 M642.73,208.92V219.38M641.43,208.92h2.6M641.43,219.38h2.6 M644.14,213.42V223.28M642.84,213.42h2.6M642.84,223.28h2.6 M645.56,215.23V227.33M644.26,215.23h2.6M644.26,227.33h2.6 M646.97,218.50V228.71M645.67,218.50h2.6M645.67,228.71h2.6 M648.39,217.30V230.87M647.09,217.30h2.6M647.09,230.87h2.6 M649.80,215.77V229.48M648.50,215.77h2.6M648.50,229.48h2.6 M651.22,217.01V227.12M649.92,217.01h2.6M649.92,227.12h2.6 M652.63,217.03V227.64M651.33,217.03h2.6M651.33,227.64h2.6 M654.05,212.21V225.67M652.75,212.21h2.6M652.75,225.67h2.6 M655.46,209.70V222.25M654.16,209.70h2.6M654.16,222.25h2.6 M656.88,215.26V228.67M655.58,215.26h2.6M655.58,228.67h2.6 M658.29,224.16V235.05M656.99,224.16h2.6M656.99,235.05h2.6 M659.71,227.82V237.53M658.41,227.82h2.6M658.41,237.53h2.6 M661.12,226.82V237.40M659.82,226.82h2.6M659.82,237.40h2.6 M662.54,224.84V238.12M661.24,224.84h2.6M661.24,238.12h2.6 M663.95,225.54V236.00M662.65,225.54h2.6M662.65,236.00h2.6 M665.37,223.29V234.16M664.07,223.29h2.6M664.07,234.16h2.6 M666.78,220.60V231.85M665.48,220.60h2.6M665.48,231.85h2.6 M668.20,217.70V228.97M666.90,217.70h2.6M666.90,228.97h2.6 M669.61,214.71V225.92M668.31,214.71h2.6M668.31,225.92h2.6 M671.03,210.15V224.12M669.73,210.15h2.6M669.73,224.12h2.6 M672.44,215.21V225.05M671.14,215.21h2.6M671.14,225.05h2.6 M673.86,221.43V230.46M672.56,221.43h2.6M672.56,230.46h2.6 M675.27,224.29V238.38M673.97,224.29h2.6M673.97,238.38h2.6 M676.69,225.17V238.92M675.39,225.17h2.6M675.39,238.92h2.6 M678.10,225.76V240.09M676.80,225.76h2.6M676.80,240.09h2.6 M679.52,228.32V239.66M678.22,228.32h2.6M678.22,239.66h2.6 M680.93,224.47V238.60M679.63,224.47h2.6M679.63,238.60h2.6 M682.35,220.72V234.72M681.05,220.72h2.6M681.05,234.72h2.6 M683.76,216.51V226.71M682.46,216.51h2.6M682.46,226.71h2.6 M685.18,216.97V229.99M683.88,216.97h2.6M683.88,229.99h2.6 M686.59,222.34V235.85M685.29,222.34h2.6M685.29,235.85h2.6 M688.01,224.22V236.80M686.71,224.22h2.6M686.71,236.80h2.6 M689.42,224.42V236.22M688.12,224.42h2.6M688.12,236.22h2.6 M690.84,224.37V234.93M689.54,224.37h2.6M689.54,234.93h2.6 M692.25,223.84V234.69M690.95,223.84h2.6M690.95,234.69h2.6 M693.67,225.45V235.67M692.37,225.45h2.6M692.37,235.67h2.6 M695.08,224.09V233.46M693.78,224.09h2.6M693.78,233.46h2.6 M696.50,222.84V235.02M695.20,222.84h2.6M695.20,235.02h2.6 M697.91,228.71V239.26M696.61,228.71h2.6M696.61,239.26h2.6 M699.33,231.70V245.08M698.03,231.70h2.6M698.03,245.08h2.6 M700.74,235.37V244.61M699.44,235.37h2.6M699.44,244.61h2.6 M702.16,230.42V244.30M700.86,230.42h2.6M700.86,244.30h2.6 M703.57,228.94V241.69M702.27,228.94h2.6M702.27,241.69h2.6 M704.99,225.68V239.67M703.69,225.68h2.6M703.69,239.67h2.6 M706.40,220.70V234.54M705.10,220.70h2.6M705.10,234.54h2.6 M707.82,214.86V228.72M706.52,214.86h2.6M706.52,228.72h2.6 M709.23,220.31V232.43M707.93,220.31h2.6M707.93,232.43h2.6 M710.65,228.47V237.54M709.35,228.47h2.6M709.35,237.54h2.6 M712.06,233.09V246.11M710.76,233.09h2.6M710.76,246.11h2.6 M713.48,235.18V245.10M712.18,235.18h2.6M712.18,245.10h2.6 M714.89,231.86V242.48M713.59,231.86h2.6M713.59,242.48h2.6 M716.31,223.61V236.19M715.01,223.61h2.6M715.01,236.19h2.6 M717.72,209.14V220.97M716.42,209.14h2.6M716.42,220.97h2.6 M719.14,208.24V219.48M717.84,208.24h2.6M717.84,219.48h2.6 M720.55,223.38V237.45M719.25,223.38h2.6M719.25,237.45h2.6 M721.97,231.49V243.80M720.67,231.49h2.6M720.67,243.80h2.6 M723.38,228.85V239.70M722.08,228.85h2.6M722.08,239.70h2.6 M724.80,226.35V236.71M723.50,226.35h2.6M723.50,236.71h2.6 M726.21,222.02V235.67M724.91,222.02h2.6M724.91,235.67h2.6 M727.63,224.77V236.35M726.33,224.77h2.6M726.33,236.35h2.6 M729.04,226.78V240.00M727.74,226.78h2.6M727.74,240.00h2.6 M730.46,226.11V237.01M729.16,226.11h2.6M729.16,237.01h2.6 M731.87,221.37V231.43M730.57,221.37h2.6M730.57,231.43h2.6 M733.29,214.43V226.31M731.99,214.43h2.6M731.99,226.31h2.6 M734.70,217.61V231.02M733.40,217.61h2.6M733.40,231.02h2.6 M736.12,224.07V233.99M734.82,224.07h2.6M734.82,233.99h2.6 M737.53,226.62V239.90M736.23,226.62h2.6M736.23,239.90h2.6 M738.95,227.81V241.79M737.65,227.81h2.6M737.65,241.79h2.6 M740.36,224.37V237.73M739.06,224.37h2.6M739.06,237.73h2.6 M741.78,223.01V236.46M740.48,223.01h2.6M740.48,236.46h2.6 M743.19,227.01V236.06M741.89,227.01h2.6M741.89,236.06h2.6 M744.61,227.80V240.19M743.31,227.80h2.6M743.31,240.19h2.6 M746.02,228.54V242.19M744.72,228.54h2.6M744.72,242.19h2.6 M747.44,231.82V241.09M746.14,231.82h2.6M746.14,241.09h2.6 M748.85,232.19V242.66M747.55,232.19h2.6M747.55,242.66h2.6 M750.27,230.27V240.72M748.97,230.27h2.6M748.97,240.72h2.6 M751.68,228.12V239.97M750.38,228.12h2.6M750.38,239.97h2.6 M428.80,142.00V154.00M427.50,142.00h2.6M427.50,154.00h2.6 M527.60,45.00V51.00M526.30,45.00h2.6M526.30,51.00h2.6 M461.10,170.50V183.50M459.80,170.50h2.6M459.80,183.50h2.6 M570.20,174.00V186.00M568.90,174.00h2.6M568.90,186.00h2.6 M606.00,185.70V195.70M604.70,185.70h2.6M604.70,195.70h2.6 M718.40,200.90V213.90M717.10,200.90h2.6M717.10,213.90h2.6" stroke="#bcbcbc" stroke-width="0.8" fill="none"/><path d="M413.40,181.80 C414.03,184.00 414.67,186.49 415.30,188.40 C415.83,190.01 416.37,192.70 416.90,192.70 C417.43,192.70 417.97,192.42 418.50,192.20 C418.87,192.05 419.23,191.60 419.60,191.60 C420.33,191.60 421.07,193.61 421.80,194.40 C422.37,195.01 422.93,196.00 423.50,196.00 C424.03,196.00 424.57,195.42 425.10,194.40 C425.47,193.70 425.83,188.84 426.20,184.00 C426.43,180.92 426.67,173.57 426.90,170.00 C427.53,160.31 428.17,148.00 428.80,148.00 C429.40,148.00 430.00,158.14 430.60,168.00 C430.80,171.29 431.00,180.76 431.20,183.00 C431.70,188.61 432.20,191.61 432.70,192.70 C433.27,193.94 433.83,194.60 434.40,194.90 C435.00,195.22 435.60,195.50 436.20,195.50 C437.43,195.50 438.67,195.50 439.90,195.50 C441.20,195.50 442.50,198.30 443.80,198.30 C444.83,198.30 445.87,196.80 446.90,196.80 C447.93,196.80 448.97,198.30 450.00,198.30 C451.00,198.30 452.00,195.30 453.00,195.30 C454.03,195.30 455.07,202.20 456.10,202.20 C456.87,202.20 457.63,199.22 458.40,196.00 C458.90,193.90 459.40,187.15 459.90,183.80 C460.30,181.12 460.70,176.90 461.10,176.90 C461.63,176.90 462.17,182.42 462.70,185.30 C463.30,188.54 463.90,194.25 464.50,195.30 C465.27,196.64 466.03,197.60 466.80,197.60 C467.57,197.60 468.33,195.89 469.10,194.50 C469.77,193.29 470.43,189.10 471.10,189.10 C471.70,189.10 472.30,194.80 472.90,197.60 C473.57,200.71 474.23,206.80 474.90,206.80 C475.60,206.80 476.30,197.22 477.00,195.00 C477.40,193.73 477.80,192.20 478.20,192.20 C478.97,192.20 479.73,200.50 480.50,202.00 C481.50,203.96 482.50,205.70 483.50,205.70 C484.73,205.70 485.97,203.59 487.20,202.00 C488.20,200.71 489.20,196.70 490.20,196.70 C491.20,196.70 492.20,197.01 493.20,197.50 C493.97,197.88 494.73,200.54 495.50,202.70 C496.23,204.77 496.97,207.99 497.70,210.90 C498.47,213.95 499.23,220.70 500.00,220.70 C500.73,220.70 501.47,216.39 502.20,212.40 C502.70,209.68 503.20,202.30 503.70,199.00 C504.33,194.81 504.97,189.20 505.60,189.20 C506.47,189.20 507.33,193.22 508.20,196.00 C508.93,198.35 509.67,202.86 510.40,205.00 C510.93,206.55 511.47,208.70 512.00,208.70 C512.73,208.70 513.47,205.10 514.20,202.00 C514.80,199.46 515.40,194.69 516.00,190.00 C516.50,186.09 517.00,179.66 517.50,176.00 C518.10,171.61 518.70,165.30 519.30,165.30 C519.87,165.30 520.43,169.17 521.00,172.00 C521.43,174.16 521.87,180.60 522.30,180.60 C522.67,180.60 523.03,179.23 523.40,178.00 C523.73,176.88 524.07,175.58 524.40,172.40 C524.73,169.22 525.07,153.16 525.40,140.00 C525.70,128.16 526.00,107.79 526.30,95.00 C526.73,76.53 527.17,47.50 527.60,47.50 C528.13,47.50 528.67,76.86 529.20,90.00 C529.63,100.68 530.07,110.41 530.50,120.00 C531.20,135.48 531.90,154.93 532.60,164.30 C533.27,173.23 533.93,177.22 534.60,184.00 C535.27,190.78 535.93,199.99 536.60,205.00 C537.13,209.00 537.67,214.50 538.20,214.50 C538.80,214.50 539.40,210.58 540.00,208.00 C540.57,205.56 541.13,202.03 541.70,199.00 C541.97,197.58 542.23,194.70 542.50,194.70 C543.33,194.70 544.17,199.80 545.00,199.80 C545.87,199.80 546.73,193.80 547.60,193.80 C548.47,193.80 549.33,198.00 550.20,198.00 C551.33,198.00 552.47,194.70 553.60,194.70 C554.73,194.70 555.87,197.20 557.00,197.20 C558.00,197.20 559.00,193.80 560.00,193.80 C561.17,193.80 562.33,197.17 563.50,200.00 C564.17,201.62 564.83,205.45 565.50,207.00 C566.07,208.32 566.63,210.00 567.20,210.00 C567.70,210.00 568.20,201.91 568.70,197.00 C569.20,192.09 569.70,180.00 570.20,180.00 C570.67,180.00 571.13,187.66 571.60,191.00 C572.13,194.82 572.67,199.68 573.20,201.50 C573.83,203.66 574.47,204.56 575.10,205.80 C575.70,206.97 576.30,208.90 576.90,208.90 C577.50,208.90 578.10,206.70 578.70,205.80 C579.33,204.85 579.97,203.30 580.60,203.30 C581.10,203.30 581.60,205.95 582.10,207.00 C582.50,207.84 582.90,209.20 583.30,209.20 C583.83,209.20 584.37,206.58 584.90,205.20 C585.40,203.91 585.90,201.20 586.40,201.20 C587.00,201.20 587.60,202.40 588.20,203.30 C588.70,204.05 589.20,205.12 589.70,206.40 C590.13,207.51 590.57,209.62 591.00,210.70 C591.40,211.69 591.80,213.10 592.20,213.10 C592.70,213.10 593.20,210.36 593.70,209.50 C594.33,208.41 594.97,207.54 595.60,207.00 C595.90,206.74 596.20,206.40 596.50,206.40 C597.00,206.40 597.50,207.43 598.00,208.20 C598.40,208.82 598.80,210.25 599.20,210.70 C599.73,211.30 600.27,211.90 600.80,211.90 C601.20,211.90 601.60,211.00 602.00,210.00 C602.30,209.25 602.60,206.71 602.90,205.20 C603.20,203.69 603.50,202.54 603.80,200.90 C604.17,198.90 604.53,194.93 604.90,193.80 C605.43,192.16 605.97,190.70 606.50,190.70 C607.67,190.70 608.83,196.48 610.00,199.90 C611.03,202.93 612.07,208.48 613.10,210.10 C614.10,211.67 615.10,213.20 616.10,213.20 C616.77,213.20 617.43,211.50 618.10,211.50 C619.10,211.50 620.10,214.11 621.10,215.60 C622.13,217.14 623.17,220.70 624.20,220.70 C625.20,220.70 626.20,218.70 627.20,218.70 C627.90,218.70 628.60,220.10 629.30,221.70 C629.97,223.23 630.63,233.00 631.30,233.00 C632.33,233.00 633.37,229.21 634.40,227.90 C635.40,226.63 636.40,226.35 637.40,224.80 C638.77,222.68 640.13,210.50 641.50,210.50 C642.53,210.50 643.57,217.51 644.60,219.70 C645.63,221.89 646.67,224.80 647.70,224.80 C648.70,224.80 649.70,221.70 650.70,221.70 C651.27,221.70 651.83,222.90 652.40,222.90 C653.40,222.90 654.40,215.70 655.40,215.70 C655.97,215.70 656.53,220.17 657.10,222.90 C657.70,225.79 658.30,233.00 658.90,233.00 C659.90,233.00 660.90,232.25 661.90,231.80 C662.70,231.44 663.50,231.22 664.30,230.60 C665.10,229.98 665.90,227.91 666.70,226.40 C667.47,224.95 668.23,223.34 669.00,221.70 C669.80,219.99 670.60,216.30 671.40,216.30 C672.00,216.30 672.60,220.45 673.20,222.90 C673.80,225.35 674.40,230.64 675.00,231.20 C675.80,231.95 676.60,231.92 677.40,232.40 C678.20,232.88 679.00,234.20 679.80,234.20 C680.57,234.20 681.33,231.14 682.10,228.80 C682.83,226.56 683.57,219.30 684.30,219.30 C684.97,219.30 685.63,227.71 686.30,228.80 C686.90,229.78 687.50,230.60 688.10,230.60 C688.73,230.60 689.37,230.40 690.00,230.20 C690.67,229.99 691.33,228.90 692.00,228.90 C692.47,228.90 692.93,230.90 693.40,230.90 C694.30,230.90 695.20,227.50 696.10,227.50 C696.80,227.50 697.50,232.72 698.20,235.00 C698.87,237.17 699.53,241.00 700.20,241.00 C700.90,241.00 701.60,238.22 702.30,237.10 C702.97,236.04 703.63,235.49 704.30,234.30 C704.77,233.47 705.23,232.45 705.70,231.00 C706.37,228.93 707.03,221.40 707.70,221.40 C708.40,221.40 709.10,225.31 709.80,228.20 C710.47,230.95 711.13,239.02 711.80,239.50 C712.50,240.00 713.20,240.30 713.90,240.30 C714.57,240.30 715.23,237.29 715.90,234.00 C716.37,231.69 716.83,225.03 717.30,220.00 C717.67,216.04 718.03,207.20 718.40,207.20 C718.80,207.20 719.20,213.72 719.60,218.00 C719.93,221.57 720.27,227.25 720.60,231.00 C720.87,234.00 721.13,239.00 721.40,239.00 C722.10,239.00 722.80,235.49 723.50,234.00 C724.50,231.87 725.50,228.30 726.50,228.30 C727.53,228.30 728.57,234.50 729.60,234.50 C730.23,234.50 730.87,230.40 731.50,228.00 C732.13,225.60 732.77,219.90 733.40,219.90 C734.10,219.90 734.80,224.67 735.50,227.00 C736.10,229.00 736.70,231.66 737.30,232.90 C737.80,233.93 738.30,235.20 738.80,235.20 C739.57,235.20 740.33,229.10 741.10,229.10 C741.60,229.10 742.10,229.91 742.60,230.50 C743.37,231.41 744.13,233.65 744.90,234.50 C746.20,235.93 747.50,237.50 748.80,237.50 C749.53,237.50 750.27,235.14 751.00,234.50 C751.50,234.06 752.00,233.83 752.50,233.50" stroke="#111" stroke-width="1.1" fill="none" stroke-linejoin="round"/><path d="M413.40,190.00 C414.57,190.53 415.73,191.60 416.90,191.60 C417.80,191.60 418.70,191.10 419.60,191.10 C420.70,191.10 421.80,192.20 422.90,192.20 C423.33,192.20 423.77,191.86 424.20,191.50 C424.50,191.25 424.80,190.79 425.10,190.00 C425.33,189.38 425.57,187.94 425.80,186.00 C425.97,184.62 426.13,181.64 426.30,179.00 C426.50,175.84 426.70,170.73 426.90,168.00 C427.53,159.36 428.17,149.00 428.80,149.00 C429.37,149.00 429.93,159.81 430.50,168.00 C430.70,170.89 430.90,176.15 431.10,179.00 C431.30,181.85 431.50,184.35 431.70,186.00 C431.97,188.20 432.23,189.94 432.50,191.00 C432.80,192.19 433.10,193.20 433.40,193.60 C434.07,194.50 434.73,195.15 435.40,195.20 C436.27,195.27 437.13,195.25 438.00,195.30 C440.00,195.42 442.00,196.40 444.00,196.90 C446.00,197.40 448.00,197.98 450.00,198.30 C452.27,198.66 454.53,199.10 456.80,199.10 C457.57,199.10 458.33,196.05 459.10,193.00 C459.50,191.41 459.90,187.08 460.30,185.00 C460.57,183.61 460.83,181.50 461.10,181.50 C461.40,181.50 461.70,183.55 462.00,185.00 C462.33,186.61 462.67,189.76 463.00,191.40 C463.60,194.35 464.20,197.94 464.80,198.30 C466.73,199.47 468.67,199.90 470.60,199.90 C472.40,199.90 474.20,199.90 476.00,199.90 C477.50,199.90 479.00,200.50 480.50,200.50 C482.00,200.50 483.50,199.53 485.00,199.00 C487.00,198.29 489.00,196.70 491.00,196.70 C492.50,196.70 494.00,197.70 495.50,198.20 C497.47,198.86 499.43,199.76 501.40,200.20 C503.40,200.65 505.40,201.20 507.40,201.20 C508.93,201.20 510.47,200.83 512.00,200.30 C513.07,199.93 514.13,198.68 515.20,197.00 C515.80,196.06 516.40,193.80 517.00,192.00 C517.43,190.70 517.87,188.35 518.30,187.80 C518.77,187.21 519.23,186.70 519.70,186.70 C520.23,186.70 520.77,191.00 521.30,192.90 C521.87,194.92 522.43,198.50 523.00,198.50 C523.47,198.50 523.93,189.21 524.40,180.60 C524.73,174.45 525.07,163.22 525.40,150.00 C525.70,138.10 526.00,114.02 526.30,100.00 C526.73,79.75 527.17,48.50 527.60,48.50 C528.13,48.50 528.67,75.80 529.20,90.00 C529.57,99.76 529.93,110.43 530.30,120.00 C530.70,130.44 531.10,143.08 531.50,150.00 C532.20,162.10 532.90,170.73 533.60,176.50 C534.27,182.00 534.93,185.61 535.60,188.80 C536.30,192.15 537.00,195.57 537.70,197.00 C538.70,199.05 539.70,201.00 540.70,201.00 C542.40,201.00 544.10,200.75 545.80,200.60 C547.83,200.42 549.87,200.25 551.90,200.00 C553.97,199.75 556.03,199.74 558.10,199.00 C558.73,198.77 559.37,195.03 560.00,194.50 C560.37,194.19 560.73,193.90 561.10,193.90 C561.80,193.90 562.50,196.10 563.20,198.00 C563.50,198.82 563.80,201.50 564.10,201.50 C565.10,201.50 566.10,198.60 567.10,195.80 C567.80,193.84 568.50,188.68 569.20,185.60 C569.53,184.13 569.87,181.50 570.20,181.50 C570.73,181.50 571.27,186.45 571.80,189.70 C572.30,192.75 572.80,200.23 573.30,200.90 C573.97,201.79 574.63,202.03 575.30,202.30 C577.00,202.98 578.70,203.11 580.40,203.60 C582.43,204.18 584.47,204.82 586.50,205.60 C588.57,206.40 590.63,207.81 592.70,208.50 C594.73,209.18 596.77,210.10 598.80,210.10 C599.80,210.10 600.80,209.75 601.80,209.10 C602.50,208.64 603.20,202.86 603.90,199.90 C604.57,197.08 605.23,191.70 605.90,191.70 C606.60,191.70 607.30,193.34 608.00,194.80 C608.67,196.19 609.33,199.86 610.00,201.90 C611.03,205.07 612.07,208.74 613.10,210.10 C614.43,211.85 615.77,212.42 617.10,213.50 C618.43,214.58 619.77,216.08 621.10,216.60 C623.13,217.39 625.17,217.66 627.20,218.10 C629.93,218.70 632.67,219.17 635.40,219.70 C638.80,220.36 642.20,220.91 645.60,221.70 C647.07,222.04 648.53,222.58 650.00,222.90 C652.00,223.34 654.00,223.61 656.00,224.00 C657.97,224.38 659.93,224.90 661.90,225.20 C663.50,225.45 665.10,225.80 666.70,225.80 C667.67,225.80 668.63,224.58 669.60,224.00 C670.40,223.52 671.20,222.60 672.00,222.60 C672.60,222.60 673.20,225.02 673.80,225.80 C674.60,226.84 675.40,227.96 676.20,228.20 C677.40,228.56 678.60,228.80 679.80,228.80 C680.57,228.80 681.33,227.37 682.10,226.40 C682.83,225.47 683.57,222.90 684.30,222.90 C684.77,222.90 685.23,226.85 685.70,227.60 C686.50,228.89 687.30,229.66 688.10,230.00 C689.70,230.69 691.30,230.85 692.90,231.20 C694.47,231.54 696.03,232.10 697.60,232.10 C699.73,232.10 701.87,232.00 704.00,232.00 C705.60,232.00 707.20,232.00 708.80,232.00 C710.87,232.00 712.93,231.91 715.00,231.50 C715.50,231.40 716.00,223.63 716.50,220.40 C717.20,215.87 717.90,208.50 718.60,208.50 C719.23,208.50 719.87,215.78 720.50,220.40 C720.93,223.56 721.37,231.50 721.80,231.50 C725.03,231.50 728.27,231.50 731.50,231.50 C735.93,231.50 740.37,231.50 744.80,231.50 C747.37,231.50 749.93,231.50 752.50,231.50" stroke="#ff0000" stroke-width="1.6" fill="none" stroke-linejoin="round"/><path d="M459.90,183.80 C460.30,181.50 460.70,176.90 461.10,176.90 C461.63,176.90 462.17,182.50 462.70,185.30" stroke="#111" stroke-width="1.0" fill="none" stroke-linejoin="round"/><path d="M568.70,197.00 C569.20,191.33 569.70,180.00 570.20,180.00 C570.67,180.00 571.13,187.33 571.60,191.00" stroke="#111" stroke-width="1.0" fill="none" stroke-linejoin="round"/><path d="M717.30,220.00 C717.67,215.73 718.03,207.20 718.40,207.20 C718.80,207.20 719.20,213.72 719.60,218.00 C719.93,221.57 720.27,226.67 720.60,231.00" stroke="#111" stroke-width="1.0" fill="none" stroke-linejoin="round"/><path d="M425.10,194.40 C425.47,190.93 425.83,188.84 426.20,184.00 C426.43,180.92 426.67,173.57 426.90,170.00 C427.53,160.31 428.17,148.00 428.80,148.00 C429.40,148.00 430.00,158.14 430.60,168.00 C430.80,171.29 431.00,178.00 431.20,183.00" stroke="#2a0000" stroke-width="0.9" fill="none" stroke-linejoin="round"/><path d="M524.40,172.40 C524.73,161.60 525.07,153.16 525.40,140.00 C525.70,128.16 526.00,107.79 526.30,95.00 C526.73,76.53 527.17,47.50 527.60,47.50 C528.13,47.50 528.67,76.86 529.20,90.00 C529.63,100.68 530.07,110.00 530.50,120.00" stroke="#2a0000" stroke-width="0.9" fill="none" stroke-linejoin="round"/></g><path d="M34,225.5H131" stroke="#8a8a8a" stroke-width="0.9"/><path d="M26.8,225.5 L38.5,222.5 L38.5,228.5 Z M138,225.5 L127.5,222.5 L127.5,228.5 Z" fill="#808080"/><path d="M71.5,272.3v-2.5M71.5,15.2v2.5 M116.5,272.3v-2.5M116.5,15.2v2.5 M162.5,272.3v-2.5M162.5,15.2v2.5 M207.5,272.3v-2.5M207.5,15.2v2.5 M252.5,272.3v-2.5M252.5,15.2v2.5 M297.5,272.3v-2.5M297.5,15.2v2.5 M343.5,272.3v-2.5M343.5,15.2v2.5 M26.4,225.5h2.5M365.9,225.5h-2.5 M26.4,178.5h2.5M365.9,178.5h-2.5 M26.4,131.5h2.5M365.9,131.5h-2.5 M26.4,85.5h2.5M365.9,85.5h-2.5 M26.4,38.5h2.5M365.9,38.5h-2.5" stroke="#555" stroke-width="1" fill="none"/><rect x="26.4" y="15.2" width="339.5" height="257.1" fill="none" stroke="#555" stroke-width="1.4"/><path d="M469.5,272.2v-2.5M469.5,9.8v2.5 M526.5,272.2v-2.5M526.5,9.8v2.5 M582.5,272.2v-2.5M582.5,9.8v2.5 M639.5,272.2v-2.5M639.5,9.8v2.5 M695.5,272.2v-2.5M695.5,9.8v2.5 M413.2,234.5h2.5M752.7,234.5h-2.5 M413.2,197.5h2.5M752.7,197.5h-2.5 M413.2,159.5h2.5M752.7,159.5h-2.5 M413.2,122.5h2.5M752.7,122.5h-2.5 M413.2,84.5h2.5M752.7,84.5h-2.5 M413.2,47.5h2.5M752.7,47.5h-2.5" stroke="#555" stroke-width="1" fill="none"/><rect x="413.2" y="9.8" width="339.50000000000006" height="262.4" fill="none" stroke="#555" stroke-width="1.4"/><rect x="590.5" y="13.5" width="158" height="25" fill="#fff" stroke="#3a3a3a" stroke-width="1"/><path d="M595,19.6H607" stroke="#ff0000" stroke-width="1.4"/><path d="M595.5,27V34.5 M606.5,27V34.5 M594.3,27h2.4M594.3,34.5h2.4M605.3,27h2.4M605.3,34.5h2.4" stroke="#ababab" stroke-width="0.9" fill="none"/><path d="M595.5,30.8H606.5" stroke="#7a7a7a" stroke-width="1.3"/><g transform="translate(148.39,12.50) scale(0.9915,1)" font-weight="normal" fill="#000" stroke="#000" stroke-width="0.12"><text x="0.00" y="0.00" font-size="10.40">85S November 2015</text></g><g transform="translate(74.04,38.20) scale(0.9487,1)" font-weight="normal" fill="#000" stroke="#000" stroke-width="0.12"><text x="0.00" y="0.00" font-size="9.70">C</text><text x="7.01" y="2.13" font-size="6.79">4</text><text x="10.78" y="0.00" font-size="9.70">H</text><text x="17.79" y="2.13" font-size="6.79">2</text></g><g transform="translate(103.61,101.00) scale(1.0129,1)" font-weight="bold" fill="#000" stroke="#000" stroke-width="0.15"><text x="0.00" y="0.00" font-size="9.70">C</text><text x="7.01" y="2.13" font-size="6.79">2</text><text x="10.78" y="0.00" font-size="9.70">N</text><text x="17.79" y="2.13" font-size="6.79">2</text></g><g transform="translate(59.88,221.20) scale(1.0558,1)" font-weight="normal" fill="#000" stroke="#000" stroke-width="0.12"><text x="0.00" y="0.00" font-size="9.70">Haystack</text></g><g transform="translate(317.84,212.30) scale(0.9522,1)" font-weight="normal" fill="#000" stroke="#000" stroke-width="0.12"><text x="0.00" y="0.00" font-size="9.70">C</text><text x="7.01" y="2.13" font-size="6.79">3</text><text x="10.78" y="0.00" font-size="9.70">H</text><text x="17.79" y="2.13" font-size="6.79">4</text></g><g transform="translate(149.70,292.60) scale(1.0875,1)" font-weight="normal" fill="#000" stroke="#000" stroke-width="0.12"><text x="0.00" y="0.00" font-size="9.40">Wavenumber (cm</text><text x="73.82" y="-3.76" font-size="6.58">−1</text><text x="81.33" y="0.00" font-size="9.40">)</text></g><g transform="translate(536.90,293.00) scale(1.0875,1)" font-weight="normal" fill="#000" stroke="#000" stroke-width="0.12"><text x="0.00" y="0.00" font-size="9.40">Wavenumber (cm</text><text x="73.82" y="-3.76" font-size="6.58">−1</text><text x="81.33" y="0.00" font-size="9.40">)</text></g><g transform="translate(7.10,211.00) rotate(-90) translate(-0.81,0) scale(1.0825,1)" font-weight="normal" fill="#000" stroke="#000" stroke-width="0.12"><text x="0.00" y="0.00" font-size="9.30">Radiance (10</text><text x="55.32" y="-3.72" font-size="6.51">−8</text><text x="62.74" y="0.00" font-size="9.30">W/cm</text><text x="86.50" y="-3.72" font-size="6.51">2</text><text x="90.12" y="0.00" font-size="9.30">/sr/cm</text><text x="115.43" y="-3.72" font-size="6.51">−1</text><text x="122.85" y="0.00" font-size="9.30">)</text></g><g transform="translate(395.50,207.60) rotate(-90) translate(-0.80,0) scale(1.0793,1)" font-weight="normal" fill="#000" stroke="#000" stroke-width="0.12"><text x="0.00" y="0.00" font-size="9.30">Radiance (10</text><text x="55.32" y="-3.72" font-size="6.51">−8</text><text x="62.74" y="0.00" font-size="9.30">W/cm</text><text x="86.50" y="-3.72" font-size="6.51">2</text><text x="90.12" y="0.00" font-size="9.30">/sr/cm</text><text x="115.43" y="-3.72" font-size="6.51">−1</text><text x="122.85" y="0.00" font-size="9.30">)</text></g><g transform="translate(538.87,6.70) scale(1.0024,1)" font-weight="normal" fill="#000" stroke="#000" stroke-width="0.12"><text x="0.00" y="0.00" font-size="10.40">Equatorial average</text></g><g transform="translate(534.43,47.30) scale(0.9680,1)" font-weight="normal" fill="#000" stroke="#000" stroke-width="0.12"><text x="0.00" y="0.00" font-size="9.70">C</text><text x="7.01" y="2.13" font-size="6.79">4</text><text x="10.78" y="0.00" font-size="9.70">H</text><text x="17.79" y="2.13" font-size="6.79">2</text></g><g transform="translate(431.12,148.30) scale(1.0008,1)" font-weight="normal" fill="#000" stroke="#000" stroke-width="0.12"><text x="0.00" y="0.00" font-size="9.70">H</text><text x="7.01" y="2.13" font-size="6.79">2</text><text x="10.78" y="0.00" font-size="9.70">O</text></g><g transform="translate(462.91,173.20) scale(1.0242,1)" font-weight="normal" fill="#000" stroke="#000" stroke-width="0.12"><text x="0.00" y="0.00" font-size="9.70">H</text><text x="7.01" y="2.13" font-size="6.79">2</text><text x="10.78" y="0.00" font-size="9.70">O</text></g><g transform="translate(565.36,172.80) scale(0.9540,1)" font-weight="normal" fill="#000" stroke="#000" stroke-width="0.12"><text x="0.00" y="0.00" font-size="9.70">H</text><text x="7.01" y="2.13" font-size="6.79">2</text><text x="10.78" y="0.00" font-size="9.70">O</text></g><g transform="translate(605.90,187.10) scale(1.0321,1)" font-weight="bold" fill="#000" stroke="#000" stroke-width="0.15"><text x="0.00" y="0.00" font-size="9.70">C</text><text x="7.01" y="2.13" font-size="6.79">2</text><text x="10.78" y="0.00" font-size="9.70">N</text><text x="17.79" y="2.13" font-size="6.79">2</text></g><g transform="translate(716.45,196.90) scale(0.9715,1)" font-weight="normal" fill="#000" stroke="#000" stroke-width="0.12"><text x="0.00" y="0.00" font-size="9.70">H</text><text x="7.01" y="2.13" font-size="6.79">2</text><text x="10.78" y="0.00" font-size="9.70">O</text></g><g transform="translate(614.40,22.60) scale(0.9849,1)" font-weight="normal" fill="#000" stroke="#000" stroke-width="0.12"><text x="0.00" y="0.00" font-size="8.90">Limb average at equator - 125 km</text></g><g transform="translate(614.41,33.50) scale(0.9623,1)" font-weight="normal" fill="#000" stroke="#000" stroke-width="0.12"><text x="0.00" y="0.00" font-size="8.90">Measured spectra</text></g><g transform="translate(18.12,281.00) scale(1.0556,1)" font-weight="normal" fill="#000" stroke="#000" stroke-width="0.12"><text x="0.00" y="0.00" font-size="9.10">200</text></g><g transform="translate(63.39,281.00) scale(1.0556,1)" font-weight="normal" fill="#000" stroke="#000" stroke-width="0.12"><text x="0.00" y="0.00" font-size="9.10">220</text></g><g transform="translate(108.65,281.00) scale(1.0556,1)" font-weight="normal" fill="#000" stroke="#000" stroke-width="0.12"><text x="0.00" y="0.00" font-size="9.10">240</text></g><g transform="translate(153.92,281.00) scale(1.0556,1)" font-weight="normal" fill="#000" stroke="#000" stroke-width="0.12"><text x="0.00" y="0.00" font-size="9.10">260</text></g><g transform="translate(199.19,281.00) scale(1.0556,1)" font-weight="normal" fill="#000" stroke="#000" stroke-width="0.12"><text x="0.00" y="0.00" font-size="9.10">280</text></g><g transform="translate(244.65,281.00) scale(1.0425,1)" font-weight="normal" fill="#000" stroke="#000" stroke-width="0.12"><text x="0.00" y="0.00" font-size="9.10">300</text></g><g transform="translate(289.92,281.00) scale(1.0425,1)" font-weight="normal" fill="#000" stroke="#000" stroke-width="0.12"><text x="0.00" y="0.00" font-size="9.10">320</text></g><g transform="translate(335.18,281.00) scale(1.0425,1)" font-weight="normal" fill="#000" stroke="#000" stroke-width="0.12"><text x="0.00" y="0.00" font-size="9.10">340</text></g><g transform="translate(19.01,274.50) scale(1.0765,1)" font-weight="normal" fill="#000" stroke="#000" stroke-width="0.12"><text x="0.00" y="0.00" font-size="9.10">0</text></g><g transform="translate(13.40,227.78) scale(1.0922,1)" font-weight="normal" fill="#000" stroke="#000" stroke-width="0.12"><text x="0.00" y="0.00" font-size="9.10">10</text></g><g transform="translate(13.61,181.06) scale(1.0709,1)" font-weight="normal" fill="#000" stroke="#000" stroke-width="0.12"><text x="0.00" y="0.00" font-size="9.10">20</text></g><g transform="translate(13.81,134.34) scale(1.0504,1)" font-weight="normal" fill="#000" stroke="#000" stroke-width="0.12"><text x="0.00" y="0.00" font-size="9.10">30</text></g><g transform="translate(13.91,87.62) scale(1.0405,1)" font-weight="normal" fill="#000" stroke="#000" stroke-width="0.12"><text x="0.00" y="0.00" font-size="9.10">40</text></g><g transform="translate(13.71,40.90) scale(1.0606,1)" font-weight="normal" fill="#000" stroke="#000" stroke-width="0.12"><text x="0.00" y="0.00" font-size="9.10">50</text></g><g transform="translate(405.32,281.00) scale(1.0556,1)" font-weight="normal" fill="#000" stroke="#000" stroke-width="0.12"><text x="0.00" y="0.00" font-size="9.10">200</text></g><g transform="translate(461.82,281.00) scale(1.0556,1)" font-weight="normal" fill="#000" stroke="#000" stroke-width="0.12"><text x="0.00" y="0.00" font-size="9.10">210</text></g><g transform="translate(518.32,281.00) scale(1.0556,1)" font-weight="normal" fill="#000" stroke="#000" stroke-width="0.12"><text x="0.00" y="0.00" font-size="9.10">220</text></g><g transform="translate(574.82,281.00) scale(1.0556,1)" font-weight="normal" fill="#000" stroke="#000" stroke-width="0.12"><text x="0.00" y="0.00" font-size="9.10">230</text></g><g transform="translate(631.32,281.00) scale(1.0556,1)" font-weight="normal" fill="#000" stroke="#000" stroke-width="0.12"><text x="0.00" y="0.00" font-size="9.10">240</text></g><g transform="translate(687.82,281.00) scale(1.0556,1)" font-weight="normal" fill="#000" stroke="#000" stroke-width="0.12"><text x="0.00" y="0.00" font-size="9.10">250</text></g><g transform="translate(744.32,281.00) scale(1.0556,1)" font-weight="normal" fill="#000" stroke="#000" stroke-width="0.12"><text x="0.00" y="0.00" font-size="9.10">260</text></g><g transform="translate(405.59,274.45) scale(1.1223,1)" font-weight="normal" fill="#000" stroke="#000" stroke-width="0.12"><text x="0.00" y="0.00" font-size="9.10">6</text></g><g transform="translate(405.58,237.00) scale(1.1467,1)" font-weight="normal" fill="#000" stroke="#000" stroke-width="0.12"><text x="0.00" y="0.00" font-size="9.10">7</text></g><g transform="translate(405.70,199.55) scale(1.0989,1)" font-weight="normal" fill="#000" stroke="#000" stroke-width="0.12"><text x="0.00" y="0.00" font-size="9.10">8</text></g><g transform="translate(405.69,162.10) scale(1.1223,1)" font-weight="normal" fill="#000" stroke="#000" stroke-width="0.12"><text x="0.00" y="0.00" font-size="9.10">9</text></g><g transform="translate(400.20,124.65) scale(1.0922,1)" font-weight="normal" fill="#000" stroke="#000" stroke-width="0.12"><text x="0.00" y="0.00" font-size="9.10">10</text></g><g transform="translate(400.14,87.20) scale(1.1920,1)" font-weight="normal" fill="#000" stroke="#000" stroke-width="0.12"><text x="0.00" y="0.00" font-size="9.10">11</text></g><g transform="translate(400.20,49.75) scale(1.1031,1)" font-weight="normal" fill="#000" stroke="#000" stroke-width="0.12"><text x="0.00" y="0.00" font-size="9.10">12</text></g><g transform="translate(400.20,12.30) scale(1.0922,1)" font-weight="normal" fill="#000" stroke="#000" stroke-width="0.12"><text x="0.00" y="0.00" font-size="9.10">13</text></g></svg></body></html>
